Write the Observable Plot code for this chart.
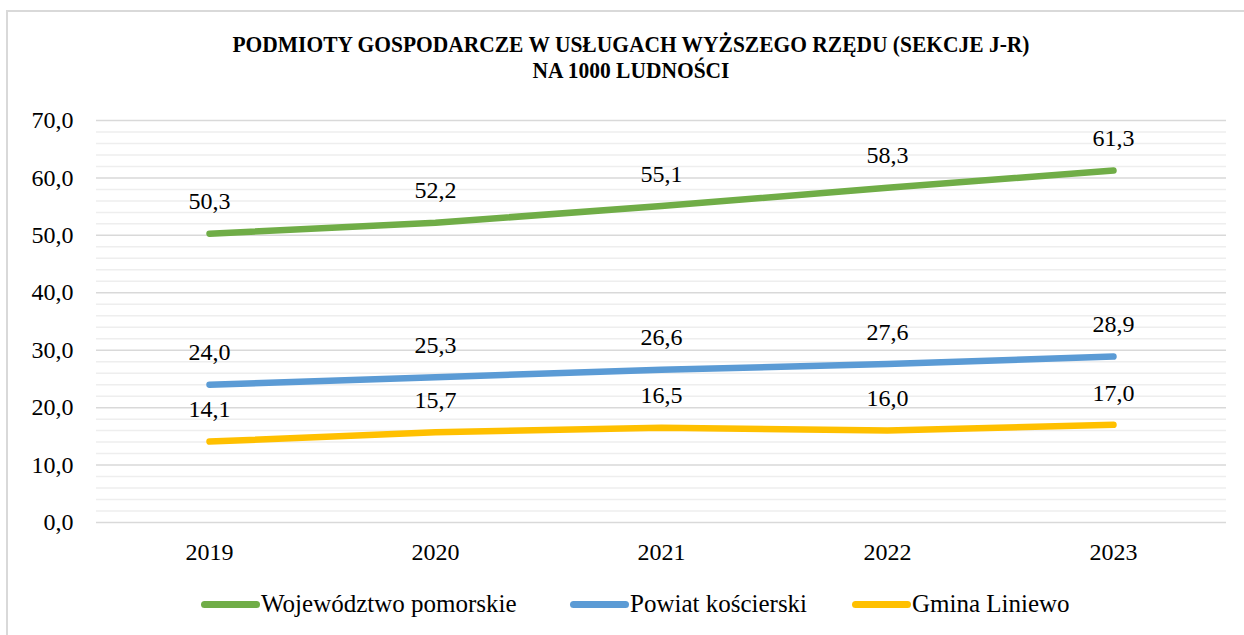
<!DOCTYPE html>
<html>
<head>
<meta charset="utf-8">
<script src="https://cdn.jsdelivr.net/npm/d3@7"></script>
<script src="https://cdn.jsdelivr.net/npm/@observablehq/plot@0.6"></script>
<style>
  html, body { margin: 0; padding: 0; background: #fff; }
  body { width: 1244px; height: 635px; position: relative; overflow: hidden; font-family: "Liberation Serif", serif; }
  #frame { position: absolute; left: 6px; top: 10px; width: 1300px; height: 700px; border: 2px solid #d9d9d9; box-sizing: border-box; }
  #title { position: absolute; left: 0; top: 31px; width: 1262px; text-align: center; font-weight: bold; font-size: 24px; line-height: 26px; color: #000; transform: scaleX(0.895); transform-origin: 631px 0; }
  #chart { position: absolute; left: 0; top: 100px; }
  .leg { position: absolute; top: 590px; height: 28px; display: flex; align-items: center; font-size: 25px; color: #000; white-space: nowrap; }
  .sw { width: 59px; height: 7px; border-radius: 4px; margin-right: 1px; }
</style>
</head>
<body>
<div id="frame"></div>
<div id="title">PODMIOTY GOSPODARCZE W USŁUGACH WYŻSZEGO RZĘDU (SEKCJE J-R)<br>NA 1000 LUDNOŚCI</div>
<div id="chart"></div>
<div id="legend"></div>
<script>
const years = ["2019", "2020", "2021", "2022", "2023"];
const seriesNames = ["Województwo pomorskie", "Powiat kościerski", "Gmina Liniewo"];
const wojewodztwo = [50.3, 52.2, 55.1, 58.3, 61.3];
const powiat = [24.0, 25.3, 26.6, 27.6, 28.9];
const gmina = [14.1, 15.7, 16.5, 16.0, 17.0];
const colors = ["#70AD47", "#5B9BD5", "#FFC000"];
const yTicks = [0, 10, 20, 30, 40, 50, 60, 70];
const minorTicks = d3.range(0, 71, 2).filter(v => v % 10 !== 0);

const allSeries = [wojewodztwo, powiat, gmina];
const data = [];
allSeries.forEach((vals, si) => {
  vals.forEach((v, i) => data.push({series: seriesNames[si], year: years[i], value: v}));
});

const fmt = v => v.toFixed(1).replace(".", ",");

const chart = Plot.plot({
  width: 1244,
  height: 470,
  marginLeft: 96,
  marginRight: 18,
  marginTop: 20,
  marginBottom: 48,
  style: {fontFamily: "Liberation Serif, serif", fontSize: "24px", color: "#000", background: "transparent"},
  x: {type: "point", domain: years, padding: 0.5, label: null, tickSize: 0, tickPadding: 20},
  y: {domain: [0, 70], ticks: yTicks, tickFormat: fmt, label: null, tickSize: 0, tickPadding: 23},
  color: {domain: seriesNames, range: colors},
  marks: [
    Plot.ruleY(minorTicks, {stroke: "#eeeeee", strokeWidth: 1.5}),
    Plot.ruleY(yTicks, {stroke: "#d9d9d9", strokeWidth: 1.5}),
    Plot.line(data, {x: "year", y: "value", z: "series", stroke: "series", strokeWidth: 6.5, strokeLinecap: "round", strokeLinejoin: "round"}),
    Plot.text(data, {x: "year", y: "value", text: d => fmt(d.value), dy: -32, fill: "#000", fontSize: 24})
  ]
});
document.getElementById("chart").appendChild(chart);

const legendLefts = [201, 570, 852];
const legend = document.getElementById("legend");
seriesNames.forEach((name, i) => {
  const item = document.createElement("div");
  item.className = "leg";
  item.style.left = legendLefts[i] + "px";
  const sw = document.createElement("div");
  sw.className = "sw";
  sw.style.background = colors[i];
  const label = document.createElement("span");
  label.textContent = name;
  item.appendChild(sw);
  item.appendChild(label);
  legend.appendChild(item);
});
</script>
</body>
</html>
